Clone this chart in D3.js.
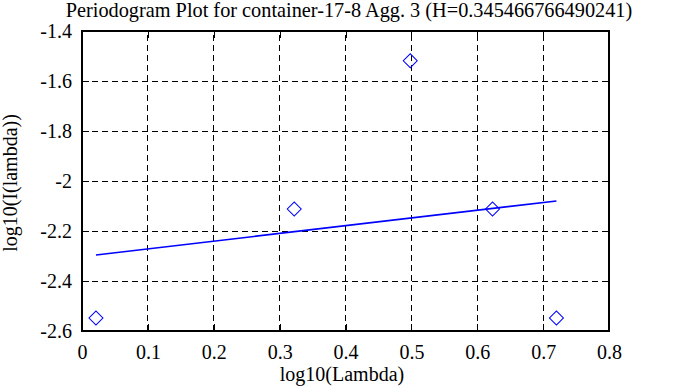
<!DOCTYPE html>
<html>
<head>
<meta charset="utf-8">
<script src="https://cdn.jsdelivr.net/npm/d3@7"></script>
<style>
  html, body { margin: 0; padding: 0; background: #fff; }
  svg text { font-family: "Liberation Serif", "DejaVu Serif", serif; fill: #000; }
</style>
</head>
<body>
<div id="chart"></div>
<script>
// values
const title = 'Periodogram Plot for container-17-8 Agg. 3 (H=0.345466766490241)';
const logLambda = [0.0212, 0.3222, 0.4983, 0.6232, 0.7202];
const logI = [-2.548, -2.112, -1.519, -2.112, -2.548];
const fitX = [0.0212, 0.7202];
const fitY = [-2.296, -2.080];
const xTicks = [0, 0.1, 0.2, 0.3, 0.4, 0.5, 0.6, 0.7, 0.8];
const xTickLabels = ['0', '0.1', '0.2', '0.3', '0.4', '0.5', '0.6', '0.7', '0.8'];
const yTicks = [-2.6, -2.4, -2.2, -2, -1.8, -1.6, -1.4];
const yTickLabels = ['-2.6', '-2.4', '-2.2', '-2', '-1.8', '-1.6', '-1.4'];

(function() {
  'use strict';

  const width = 673, height = 387,
        margin = { top: 31, right: 64, bottom: 56, left: 82 },
        innerW = width - margin.left - margin.right,
        innerH = height - margin.top - margin.bottom,
        fontSize = 20;

  const svg = d3.select('#chart').append('svg')
    .attr('width', width)
    .attr('height', height);

  const x = d3.scaleLinear().domain([0, 0.8]).range([margin.left, margin.left + innerW]);
  const y = d3.scaleLinear().domain([-2.6, -1.4]).range([margin.top + innerH, margin.top]);

  const g = svg.append('g');

  // dashed grid
  g.selectAll('line.vgrid')
    .data(xTicks.slice(1, -1))
    .enter().append('line')
      .attr('class', 'vgrid')
      .attr('x1', d => x(d)).attr('x2', d => x(d))
      .attr('y1', y(-2.6)).attr('y2', y(-1.4))
      .attr('stroke', '#000').attr('stroke-dasharray', '6,4')
      .attr('shape-rendering', 'crispEdges');

  g.selectAll('line.hgrid')
    .data(yTicks.slice(1, -1))
    .enter().append('line')
      .attr('class', 'hgrid')
      .attr('x1', x(0)).attr('x2', x(0.8))
      .attr('y1', d => y(d)).attr('y2', d => y(d))
      .attr('stroke', '#000').attr('stroke-dasharray', '6,4')
      .attr('shape-rendering', 'crispEdges');

  // axes (ticks inward, mirrored)
  const tickLen = 7;
  const xAxisB = d3.axisBottom(x).tickValues(xTicks).tickSize(-tickLen).tickFormat((d, i) => xTickLabels[i]).tickPadding(14);
  const xAxisT = d3.axisTop(x).tickValues(xTicks).tickSize(-tickLen).tickFormat('');
  const yAxisL = d3.axisLeft(y).tickValues(yTicks).tickSize(-tickLen).tickFormat((d, i) => yTickLabels[i]).tickPadding(10);
  const yAxisR = d3.axisRight(y).tickValues(yTicks).tickSize(-tickLen).tickFormat('');

  const styleAxis = sel => {
    sel.select('.domain').remove();
    sel.selectAll('.tick line').attr('stroke', '#000').attr('shape-rendering', 'crispEdges');
    sel.selectAll('text').attr('font-size', fontSize).attr('font-family', '"Liberation Serif", serif');
  };

  svg.append('g').attr('transform', `translate(0,${y(-2.6)})`).call(xAxisB).call(styleAxis);
  svg.append('g').attr('transform', `translate(0,${y(-1.4)})`).call(xAxisT).call(styleAxis);
  svg.append('g').attr('transform', `translate(${x(0)},0)`).call(yAxisL).call(styleAxis);
  svg.append('g').attr('transform', `translate(${x(0.8)},0)`).call(yAxisR).call(styleAxis);

  // border
  svg.append('rect')
    .attr('x', x(0)).attr('y', y(-1.4))
    .attr('width', x(0.8) - x(0)).attr('height', y(-2.6) - y(-1.4))
    .attr('fill', 'none').attr('stroke', '#000').attr('stroke-width', 2);

  // fit line
  svg.append('line')
    .attr('x1', x(fitX[0])).attr('y1', y(fitY[0]))
    .attr('x2', x(fitX[1])).attr('y2', y(fitY[1]))
    .attr('stroke', '#0000ff').attr('stroke-width', 1.7);

  // points
  const sym = d3.symbol().type(d3.symbolSquare).size(98);
  svg.selectAll('path.pt')
    .data(logLambda.map((d, i) => [d, logI[i]]))
    .enter().append('path')
      .attr('class', 'pt')
      .attr('d', sym)
      .attr('transform', d => `translate(${x(d[0])},${y(d[1])}) rotate(45)`)
      .attr('fill', 'none').attr('stroke', '#0000ff').attr('stroke-width', 1);

  // titles
  svg.append('text')
    .attr('x', 349).attr('y', 17)
    .attr('text-anchor', 'middle').attr('font-size', 20.3)
    .text(title);

  svg.append('text')
    .attr('x', 342).attr('y', 381)
    .attr('text-anchor', 'middle').attr('font-size', fontSize)
    .text('log10(Lambda)');

  svg.append('text')
    .attr('transform', 'translate(17,183) rotate(-90)')
    .attr('text-anchor', 'middle').attr('font-size', fontSize)
    .text('log10(I(lambda))');
})();
</script>
</body>
</html>
